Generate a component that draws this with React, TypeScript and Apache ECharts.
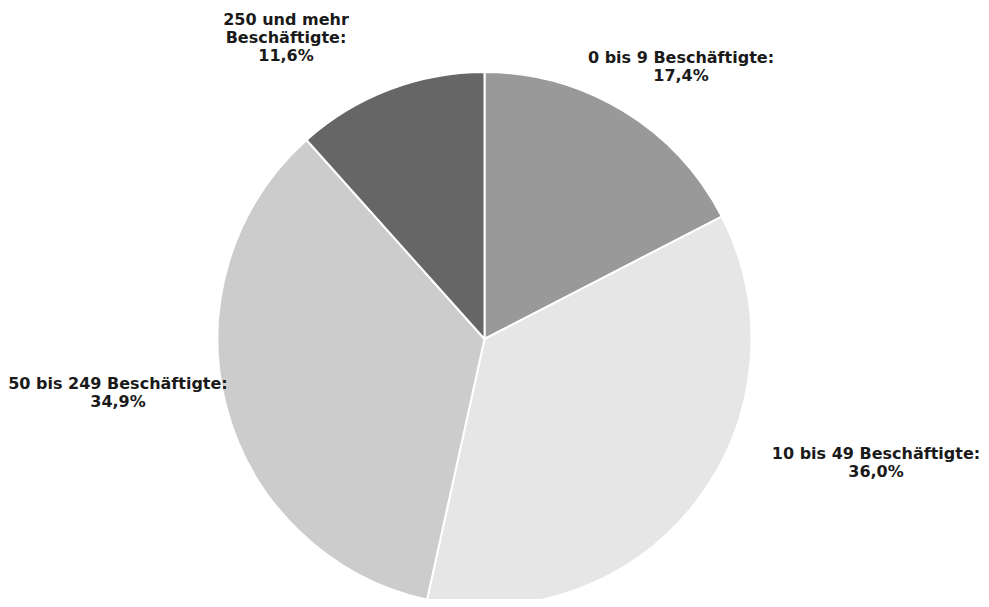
import React, { useEffect, useRef } from "react";
import * as echarts from "echarts";

const categories = [
  "0 bis 9 Beschäftigte:",
  "10 bis 49 Beschäftigte:",
  "50 bis 249 Beschäftigte:",
  "250 und mehr\nBeschäftigte:",
];
const values = [17.4, 36.0, 34.9, 11.6];
const colors = ["#999999", "#e6e6e6", "#cccccc", "#666666"];
const labelPos: [number, number][] = [
  [681, 66],
  [876, 462],
  [118, 392],
  [286, 37],
];

export default function App() {
  const ref = useRef<HTMLDivElement>(null);
  useEffect(() => {
    const chart = echarts.init(ref.current!, null, { renderer: "svg" });
    chart.setOption({
      animation: false,
      backgroundColor: "#ffffff",
      series: [
        {
          type: "pie",
          center: [484.5, 339],
          radius: 267,
          startAngle: 90,
          clockwise: true,
          data: categories.map((c, i) => ({
            name: c,
            value: values[i],
            itemStyle: { color: colors[i] },
          })),
          itemStyle: { borderColor: "#ffffff", borderWidth: 2 },
          label: {
            show: true,
            position: "outside",
            formatter: (p: any) =>
              p.name + "\n" + p.value.toFixed(1).replace(".", ",") + "%",
            fontFamily: "DejaVu Sans",
            fontWeight: "bold",
            fontSize: 16,
            lineHeight: 18,
            color: "#1a1a1a",
            align: "center",
            overflow: "none",
            width: 300,
          },
          labelLine: { show: false },
          labelLayout: (p: any) => ({
            x: labelPos[p.dataIndex][0],
            y: labelPos[p.dataIndex][1],
            align: "center",
            verticalAlign: "middle",
          }),
          emphasis: { disabled: true },
        },
      ],
    });
    return () => chart.dispose();
  }, []);
  return <div ref={ref} style={{ width: 989, height: 607, margin: -8 }} />;
}
